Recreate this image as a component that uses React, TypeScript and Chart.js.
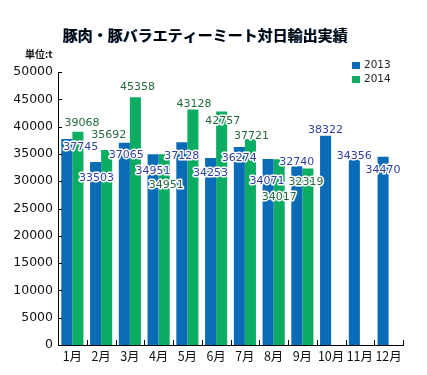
import React, { useEffect, useRef } from "react";
import { Chart, registerables } from "chart.js";

Chart.register(...registerables);

const titleText = "豚肉・豚バラエティーミート対日輸出実績";
const unitText = "単位:t";
const months = ["1月", "2月", "3月", "4月", "5月", "6月", "7月", "8月", "9月", "10月", "11月", "12月"];
const seriesNames = ["2013", "2014"];
const values2013 = [37745, 33503, 37065, 34951, 37128, 34253, 36274, 34071, 32740, 38322, 34356, 34470];
const values2014: (number | null)[] = [39068, 35692, 45358, 34951, 43128, 42757, 37721, 34017, 32319, null, null, null];
const yMin = 0;
const yMax = 50000;
const yStep = 5000;

// label placement offsets (px) relative to each bar's centre / value position
const labelDx2013 = [14, 1, 2, 0, 0, 0, 0, -1, 0, 0, 0, 0];
const labelDy2013 = [8, 16, 13, 17, 14, 15, 11, 22, -4, -6, -1, 13];
const labelDx2014 = [4, 2, 2, 2, 1, 1, 1, 0, -2];
const labelDy2014 = [-9, -15, -10, 31, -5, 10, -3, 38, 14];

const BLUE = "#0a6cb6";
const GREEN = "#0cac63";
const LABEL_BLUE = "#2f3f9f";
const LABEL_GREEN = "#24683a";
const CJK = "'Noto Sans CJK JP', 'DejaVu Sans', sans-serif";
const NUM = "'DejaVu Sans', sans-serif";

const decorPlugin = {
  id: "decor",
  afterDraw(chart: any) {
    const ctx = chart.ctx as CanvasRenderingContext2D;
    const area = chart.chartArea;
    const x = chart.scales.x;
    const y = chart.scales.y;
    ctx.save();
    // inward tick marks
    ctx.strokeStyle = "#000";
    ctx.lineWidth = 1;
    const n = months.length;
    const w = (x.right - x.left) / n;
    ctx.beginPath();
    for (let k = 1; k <= n; k++) {
      const px = Math.round(x.left + k * w) + 0.5;
      ctx.moveTo(px, area.bottom);
      ctx.lineTo(px, area.bottom - 5);
    }
    for (let v = yMin + yStep; v <= yMax; v += yStep) {
      const py = Math.round(y.getPixelForValue(v)) + 0.5;
      ctx.moveTo(area.left, py);
      ctx.lineTo(area.left + 4, py);
    }
    ctx.stroke();

    // data labels
    ctx.font = `11px ${NUM}`;
    ctx.textAlign = "center";
    ctx.textBaseline = "middle";
    ctx.lineJoin = "round";
    const drawSet = (di: number, vals: (number | null)[], dx: number[], dy: number[], color: string) => {
      const meta = chart.getDatasetMeta(di);
      vals.forEach((v, i) => {
        if (v == null) return;
        const el = meta.data[i];
        const lx = el.x + (dx[i] || 0);
        const ly = y.getPixelForValue(v) + (dy[i] || 0);
        ctx.strokeStyle = "#fff";
        ctx.lineWidth = 3;
        ctx.strokeText(String(v), lx, ly);
        ctx.fillStyle = color;
        ctx.fillText(String(v), lx, ly);
      });
    };
    drawSet(0, values2013, labelDx2013, labelDy2013, LABEL_BLUE);
    drawSet(1, values2014, labelDx2014, labelDy2014, LABEL_GREEN);

    // title
    ctx.font = `bold 15px ${CJK}`;
    ctx.textAlign = "center";
    ctx.textBaseline = "middle";
    ctx.fillStyle = "#5b8fd0";
    ctx.fillText(titleText, 205.7, 35.7);
    ctx.fillStyle = "#000";
    ctx.fillText(titleText, 205, 35);

    // unit
    ctx.font = `bold 10px ${CJK}`;
    ctx.textAlign = "left";
    ctx.fillStyle = "#111";
    ctx.fillText(unitText, 25, 54);

    // legend
    const colors = [BLUE, GREEN];
    ctx.font = `10.5px ${NUM}`;
    seriesNames.forEach((name, i) => {
      const ly = 65.5 + i * 14;
      ctx.fillStyle = colors[i];
      ctx.fillRect(352, ly - 3.5, 8, 7);
      ctx.fillStyle = "#222";
      ctx.textAlign = "left";
      ctx.fillText(name, 364, ly);
    });
    ctx.restore();
  },
};

export default function App() {
  const ref = useRef<HTMLCanvasElement>(null);
  useEffect(() => {
    document.body.style.margin = "0";
    const chart = new Chart(ref.current as HTMLCanvasElement, {
      type: "bar",
      data: {
        labels: months,
        datasets: [
          { label: seriesNames[0], data: values2013, backgroundColor: BLUE, categoryPercentage: 0.77, barPercentage: 1 },
          { label: seriesNames[1], data: values2014, backgroundColor: GREEN, categoryPercentage: 0.77, barPercentage: 1 },
        ],
      },
      options: {
        responsive: false,
        animation: false,
        devicePixelRatio: 1,
        layout: { padding: { top: 72, right: 24, bottom: 0, left: 0 } },
        plugins: { legend: { display: false }, title: { display: false }, tooltip: { enabled: false } },
        scales: {
          x: {
            grid: { display: false, drawTicks: false },
            border: { display: true, color: "#000", width: 1 },
            ticks: { color: "#111", font: { family: CJK, size: 12.5 }, padding: 4, maxRotation: 0, autoSkip: false },
            afterFit: (s: any) => { s.height = 30; },
          },
          y: {
            min: yMin,
            max: yMax,
            grid: { display: false, drawTicks: false },
            border: { display: true, color: "#000", width: 1 },
            ticks: {
              stepSize: yStep,
              color: "#111",
              font: { family: NUM, size: 12.5 },
              padding: 5,
              callback: (v: any) => String(v),
            },
            afterFit: (s: any) => { s.width = 58; },
          },
        },
      },
      plugins: [decorPlugin],
    } as any);
    return () => chart.destroy();
  }, []);
  return (
    <div style={{ position: "absolute", left: 0, top: 0, width: 427, height: 375 }}>
      <canvas ref={ref} width={427} height={375} />
    </div>
  );
}
